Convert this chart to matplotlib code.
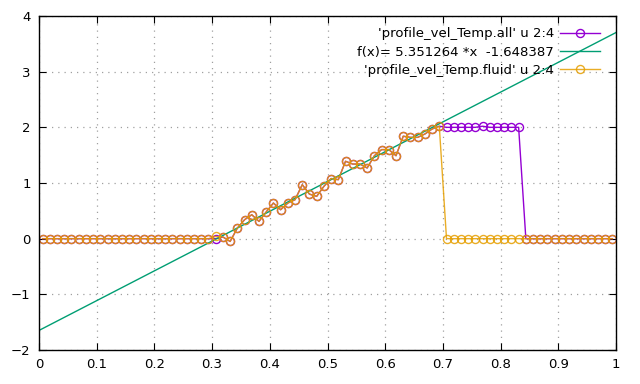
import numpy as np
import matplotlib.pyplot as plt

# cell centres, 80 cells on [0, 1]
n_cells = 80
x = (np.arange(n_cells) + 0.5) / n_cells

# ramp values, cells 24..55
ramp = [0.04, 0.03, -0.05, 0.19, 0.34, 0.43, 0.31, 0.48, 0.64, 0.52,
        0.64, 0.70, 0.97, 0.80, 0.76, 0.94, 1.08, 1.06, 1.39, 1.34,
        1.34, 1.27, 1.49, 1.60, 1.60, 1.49, 1.84, 1.82, 1.82, 1.88,
        1.97, 2.02]
plateau_all = [2.0, 2.0, 2.0, 2.0, 2.0, 2.02, 2.0, 2.0, 2.0, 2.0, 2.0]

fluid = [0.0] * 24 + ramp + [0.0] * 24
temp_all = [0.0] * 24 + [0.0] + ramp[1:] + plateau_all + [0.0] * 13

slope = 5.351264
icept = -1.648387
xfit = np.array([0.0, 1.0])

fig = plt.figure(figsize=(6.4, 3.84), dpi=100)
ax = fig.add_axes([39 / 640, 1 - 350 / 384, 577 / 640, 334 / 384])

ax.plot(x, temp_all, '-o', color='#9400d3', lw=1, ms=5.8, mfc='none', mew=1,
        label="'profile_vel_Temp.all' u 2:4")
ax.plot(xfit, slope * xfit + icept, '-', color='#009e73', lw=1,
        label='f(x)= 5.351264 *x  -1.648387')
ax.plot(x, fluid, '-o', color='#e69f00', lw=1, ms=5.8, mfc='none', mew=1,
        alpha=0.85, label="'profile_vel_Temp.fluid' u 2:4")

ax.set_xlim(0, 1)
ax.set_ylim(-2, 4)
ax.set_xticks(np.arange(0, 1.01, 0.1))
ax.set_xticklabels(['0', '0.1', '0.2', '0.3', '0.4', '0.5', '0.6', '0.7', '0.8', '0.9', '1'])
ax.set_yticks(range(-2, 5))
ax.tick_params(direction='in', top=True, right=True, length=5, labelsize=9.5, pad=6)
ax.grid(True, color='#a0a0a0', linestyle=(0, (1, 4)), lw=0.9)
for s in ax.spines.values():
    s.set_linewidth(1)

ax.legend(loc='upper right', bbox_to_anchor=(0.978, 0.976), borderaxespad=0,
          frameon=False, markerfirst=False, numpoints=1,
          fontsize=9.5, handlelength=3.0, labelspacing=0.4,
          borderpad=0.25, handletextpad=0.5)

fig.savefig('out.png', dpi=100)
